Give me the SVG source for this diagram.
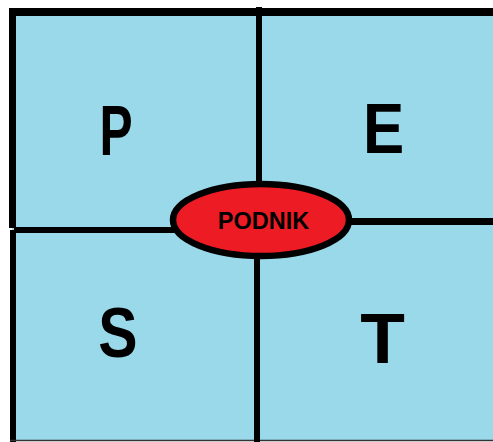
<svg xmlns="http://www.w3.org/2000/svg" width="493" height="442" viewBox="0 0 493 442">
<style>
.q{fill:#99d9ea}
.ln{stroke:#000;fill:none}
.big{font-family:"Liberation Sans",Arial,sans-serif;font-weight:bold;font-size:71px;fill:#000;text-anchor:middle}
.lbl{font-family:"Liberation Sans",Arial,sans-serif;font-weight:bold;font-size:23.5px;fill:#000;text-anchor:middle}
</style>
<rect width="493" height="442" fill="#fff"/>
<rect x="12" y="12" width="481" height="429" class="q"/>
<g id="frame">
<line x1="9" y1="12" x2="493" y2="12" class="ln" stroke-width="8"/>
<line x1="12.5" y1="8" x2="12.5" y2="228" class="ln" stroke-width="7"/>
<line x1="13" y1="230" x2="13" y2="442" class="ln" stroke-width="6"/>
<line x1="10" y1="440.5" x2="493" y2="440.5" stroke="#333" stroke-width="1.5"/>
</g>
<g id="connectors">
<line x1="259" y1="7" x2="259" y2="186" class="ln" stroke-width="6"/>
<line x1="257" y1="254" x2="257" y2="442" class="ln" stroke-width="6"/>
<line x1="14" y1="230" x2="176" y2="230" class="ln" stroke-width="6"/>
<line x1="346" y1="221.5" x2="493" y2="221.5" class="ln" stroke-width="7"/>
</g>
<g id="P"><text class="big" transform="translate(116,155) scale(0.7,1)">P</text></g>
<g id="E"><text class="big" transform="translate(383.5,153) scale(0.87,1)">E</text></g>
<g id="S"><text class="big" transform="translate(118,356.5) scale(0.83,1)">S</text></g>
<g id="T"><text class="big" transform="translate(382.5,363) scale(1.03,1)">T</text></g>
<g id="PODNIK">
<ellipse cx="261" cy="220" rx="88" ry="36" fill="#ed1c24" stroke="#000" stroke-width="6.5"/>
<text class="lbl" x="263.5" y="229">PODNIK</text>
</g>
</svg>
